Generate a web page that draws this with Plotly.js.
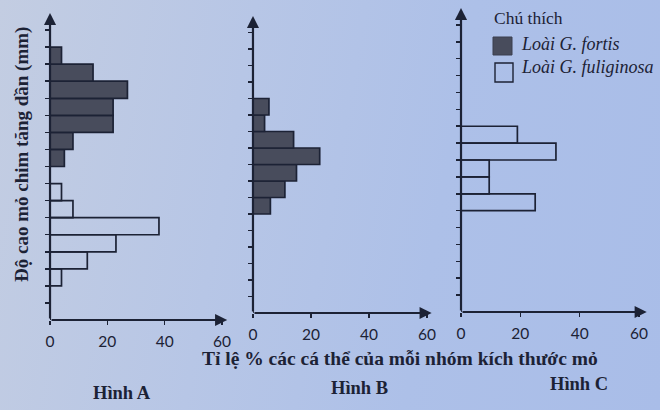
<!DOCTYPE html>
<html>
<head>
<meta charset="utf-8">
<script src="https://cdn.plot.ly/plotly-3.0.1.min.js"></script>
<style>
  html, body { margin: 0; padding: 0; }
  body {
    width: 660px; height: 410px; overflow: hidden;
    background: linear-gradient(100deg, #c3cde2 0%, #b7c6e6 35%, #adc0e8 65%, #a9bde8 100%);
  }
  #chart { width: 660px; height: 410px; }
</style>
</head>
<body>
<div id="chart"></div>
<script>
"use strict";

// size classes of beak depth (bottom -> top), 17 classes on each axis
const sizeClass = [1, 2, 3, 4, 5, 6, 7, 8, 9, 10, 11, 12, 13, 14, 15, 16, 17];

// Hình A : both species together
const fortisA     = [0, 0, 0, 0, 0, 0, 0, 0, 0, 5, 8, 22, 22, 27, 15, 4, 0];
const fuliginosaA = [0, 0, 4, 13, 23, 38, 8, 4, 0, 0, 0, 0, 0, 0, 0, 0, 0];
// Hình B : G. fortis alone
const fortisB     = [0, 0, 0, 0, 0, 0, 6, 11, 15, 23, 14, 4, 5.5, 0, 0, 0, 0];
// Hình C : G. fuliginosa alone
const fuliginosaC = [0, 0, 0, 0, 0, 0, 25, 9.5, 9.5, 32, 19, 0, 0, 0, 0, 0, 0];

const xTicks = [0, 20, 40, 60];

const ink = "#1c2235";
const darkFill = "#484c5c";

// bars sit between two ticks: class k spans k-1 .. k
const yPos = sizeClass.map(k => k - 0.5);

function barTrace(values, filled, xa, ya, name) {
    return {
        type: "bar",
        orientation: "h",
        x: values,
        y: yPos,
        width: 1,
        xaxis: xa,
        yaxis: ya,
        name: name,
        showlegend: false,
        marker: {
            color: filled ? darkFill : "rgba(0,0,0,0)",
            line: { color: ink, width: 1.7 }
        },
        hoverinfo: "skip"
    };
}

const data = [
    barTrace(fortisA, true, "x", "y", "Loài G. fortis"),
    barTrace(fuliginosaA, false, "x", "y", "Loài G. fuliginosa"),
    barTrace(fortisB, true, "x2", "y2", "Loài G. fortis"),
    barTrace(fuliginosaC, false, "x3", "y3", "Loài G. fuliginosa")
];

function xAxis(domain, anchor) {
    return {
        domain: domain,
        anchor: anchor,
        range: [0, 60],
        tickvals: xTicks,
        ticktext: xTicks.map(String),
        ticks: "outside",
        ticklen: 4,
        tickwidth: 1.5,
        tickcolor: ink,
        ticklabelstandoff: 3,
        showline: false,
        showgrid: false,
        zeroline: false,
        tickfont: { family: "Lato, 'Open Sans', sans-serif", size: 15.5, color: ink },
        fixedrange: true
    };
}

function yAxis(domain, anchor) {
    return {
        domain: domain,
        anchor: anchor,
        range: [0, 18],
        tickvals: sizeClass,
        showticklabels: false,
        ticks: "outside",
        ticklen: 4,
        tickwidth: 1.5,
        tickcolor: ink,
        showline: false,
        showgrid: false,
        zeroline: false,
        fixedrange: true
    };
}

// axis lines with arrow heads
function axisArrow(xref, yref, x, y) {
    return {
        xref: xref, yref: yref, axref: xref, ayref: yref,
        x: x, y: y, ax: 0, ay: 0,
        text: "", showarrow: true,
        arrowhead: 2, arrowsize: 1.1, arrowwidth: 2.2, arrowcolor: ink,
        standoff: 0, startstandoff: 0
    };
}

const serif = "'Liberation Serif', 'Times New Roman', serif";

// text placed at pixel position (px, py) of the 660x410 page
function label(px, py, text, size, opts) {
    return Object.assign({
        xref: "paper", yref: "paper",
        x: px / 660, y: 1 - py / 410,
        xanchor: "center", yanchor: "middle",
        text: text, showarrow: false,
        font: { family: serif, size: size, color: ink }
    }, opts || {});
}

const layout = {
    width: 660,
    height: 410,
    margin: { l: 0, r: 0, t: 0, b: 0 },
    paper_bgcolor: "rgba(0,0,0,0)",
    plot_bgcolor: "rgba(0,0,0,0)",
    barmode: "overlay",
    showlegend: false,

    xaxis:  xAxis([0.0758, 0.3364], "y"),
    yaxis:  yAxis([0.2195, 0.9683], "x"),
    xaxis2: xAxis([0.3833, 0.6470], "y2"),
    yaxis2: yAxis([0.2366, 0.9610], "x2"),
    xaxis3: xAxis([0.6985, 0.9682], "y3"),
    yaxis3: yAxis([0.2390, 0.9805], "x3"),

    annotations: [
        axisArrow("x", "y", 61.8, 0),
        axisArrow("x", "y", 0, 18),
        axisArrow("x2", "y2", 61.6, 0),
        axisArrow("x2", "y2", 0, 18),
        axisArrow("x3", "y3", 62.6, 0),
        axisArrow("x3", "y3", 0, 18),

        label(22, 155, "<b>Độ cao mỏ chim tăng dần (mm)</b>", 19, { textangle: -90 }),
        label(400, 358, "<b>Tỉ lệ % các cá thể của mỗi nhóm kích thước mỏ</b>", 19.5),
        label(122, 393, "<b>Hình A</b>", 18.5),
        label(359, 388, "<b>Hình B</b>", 18.5),
        label(579, 384, "<b>Hình C</b>", 18.5),

        // legend ("Chú thích")
        label(492, 18, "Chú thích", 17.5, { xanchor: "left" }),
        label(519, 44, "<i>Loài G. fortis</i>", 18, { xanchor: "left" }),
        label(519, 67, "<i>Loài G. fuliginosa</i>", 18, { xanchor: "left" })
    ],

    shapes: [
        {
            type: "rect", xref: "paper", yref: "paper",
            x0: 493 / 660, x1: 512 / 660, y0: 1 - 55 / 410, y1: 1 - 37 / 410,
            fillcolor: darkFill, line: { color: "#3a3f4e", width: 1 }
        },
        {
            type: "rect", xref: "paper", yref: "paper",
            x0: 495 / 660, x1: 513 / 660, y0: 1 - 82 / 410, y1: 1 - 63 / 410,
            fillcolor: "rgba(0,0,0,0)", line: { color: ink, width: 1.4 }
        }
    ]
};

Plotly.newPlot("chart", data, layout, { displayModeBar: false, staticPlot: true });
</script>
</body>
</html>
